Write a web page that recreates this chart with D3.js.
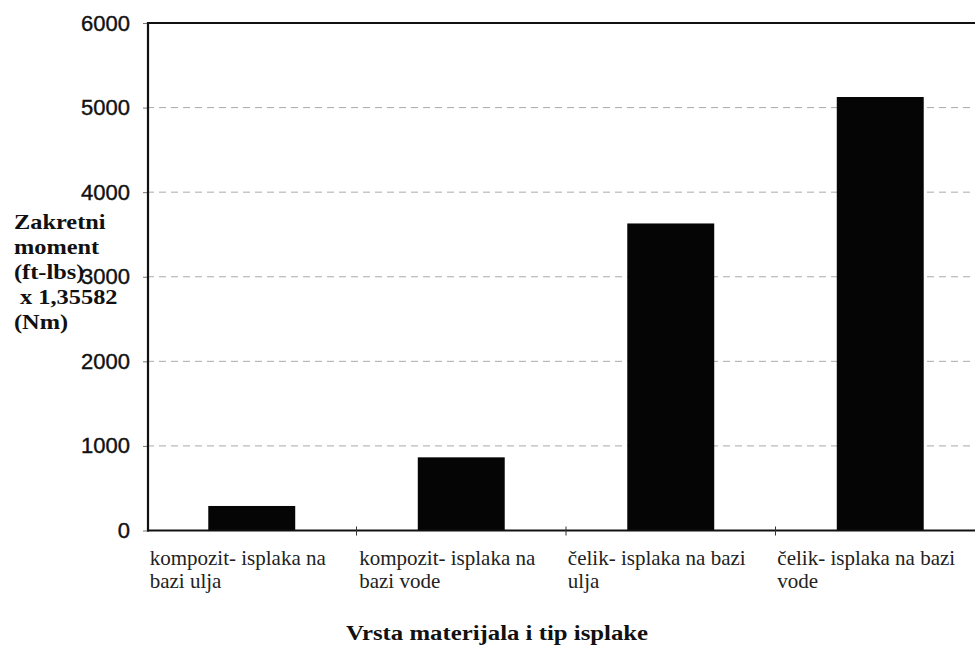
<!DOCTYPE html>
<html>
<head>
<meta charset="utf-8">
<script src="https://cdn.jsdelivr.net/npm/d3@7"></script>
<style>
  body { margin: 0; background: #fff; }
  svg { display: block; }
</style>
</head>
<body>
<script>
// values
var categories = ["kompozit-ulje", "kompozit-voda", "celik-ulje", "celik-voda"];
var labelLine1 = ["kompozit- isplaka na", "kompozit- isplaka na", "čelik- isplaka na bazi", "čelik- isplaka na bazi"];
var labelLine2 = ["bazi ulja", "bazi vode", "ulja", "vode"];
var torque = [290, 865, 3630, 5125];
var yTicks = [0, 1000, 2000, 3000, 4000, 5000, 6000];
var yTitle = ["Zakretni", "moment", "(ft-lbs)", " x 1,35582", "(Nm)"];
var xTitle = "Vrsta materijala i tip isplake";

var W = 975, H = 645;
var svg = d3.select("body").append("svg").attr("width", W).attr("height", H);

var x = d3.scaleBand().domain(categories).range([147, 985])
    .paddingInner(0.585).paddingOuter(0.2925);
var y = d3.scaleLinear().domain([0, 6000]).range([530.5, 23]);

// grid lines (top one is solid, like the frame)
svg.append("g").selectAll("line")
    .data(yTicks.filter(function(d){ return d > 0; }))
    .enter().append("line")
    .attr("x1", 147).attr("x2", W)
    .attr("y1", function(d){ return y(d); })
    .attr("y2", function(d){ return y(d); })
    .attr("stroke", function(d){ return d == 6000 ? "#111" : "#aaa"; })
    .attr("stroke-width", function(d){ return d == 6000 ? 2 : 1; })
    .attr("stroke-dasharray", function(d){ return d == 6000 ? null : "7,5"; });

// bars
svg.append("g").selectAll("rect")
    .data(torque)
    .enter().append("rect")
    .attr("x", function(d, i){ return x(categories[i]); })
    .attr("width", x.bandwidth())
    .attr("y", function(d){ return y(d); })
    .attr("height", function(d){ return y(0) - y(d); })
    .attr("fill", "#050505");

// y axis labels
var yAxis = svg.append("g")
    .attr("transform", "translate(147,0)")
    .call(d3.axisLeft(y).tickValues(yTicks).tickFormat(d3.format("d")).tickSize(4).tickPadding(13));
yAxis.select(".domain").remove();
yAxis.selectAll("text")
    .attr("font-family", "'Liberation Sans', Arial, sans-serif")
    .attr("font-size", 22)
    .attr("fill", "#111")
    .attr("stroke", "#111").attr("stroke-width", 0.4);
yAxis.selectAll("line").attr("stroke", "#777");

// axis lines
svg.append("line").attr("x1", 148).attr("x2", 148).attr("y1", y(6000) - 1).attr("y2", y(0) + 1)
    .attr("stroke", "#111").attr("stroke-width", 2.2);
svg.append("line").attr("x1", 147).attr("x2", W).attr("y1", y(0)).attr("y2", y(0))
    .attr("stroke", "#111").attr("stroke-width", 2);

// category boundary ticks
var step = x.step();
svg.append("g").selectAll("line")
    .data(categories.slice(1))
    .enter().append("line")
    .attr("x1", function(d){ return x(d) - x.paddingInner() * step / 2; })
    .attr("x2", function(d){ return x(d) - x.paddingInner() * step / 2; })
    .attr("y1", y(0) - 4).attr("y2", y(0) + 5)
    .attr("stroke", "#333");

// category labels
var lab = svg.append("g").attr("font-family", "'Liberation Serif', 'Times New Roman', serif")
    .attr("font-size", 21).attr("fill", "#222");
categories.forEach(function(c, i) {
    var cx = x(c) + x.bandwidth() / 2 - 14;
    var t = lab.append("text").attr("y", 565).text(labelLine1[i]);
    var w = t.node().getComputedTextLength();
    t.attr("x", cx - w / 2);
    lab.append("text").attr("x", cx - w / 2).attr("y", 588).text(labelLine2[i]);
});

// y title
var yt = svg.append("g").attr("transform", "translate(14,0) scale(1.16,1)")
    .attr("font-family", "'Liberation Serif', 'Times New Roman', serif")
    .attr("font-weight", "bold").attr("font-size", 21).attr("fill", "#111");
yt.selectAll("text").data(yTitle).enter().append("text")
    .attr("x", 0)
    .attr("y", function(d, i){ return 229 + i * 25; })
    .attr("xml:space", "preserve")
    .text(function(d){ return d; });

// x title
svg.append("g").attr("transform", "translate(497,640) scale(1.18,1)")
    .append("text")
    .attr("text-anchor", "middle")
    .attr("font-family", "'Liberation Serif', 'Times New Roman', serif")
    .attr("font-weight", "bold").attr("font-size", 21).attr("fill", "#111")
    .text(xTitle);
</script>
</body>
</html>
